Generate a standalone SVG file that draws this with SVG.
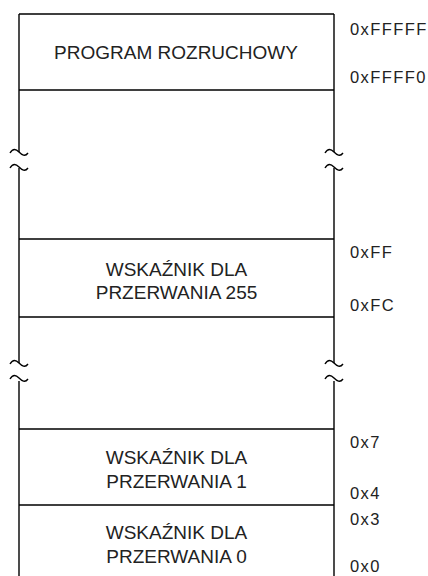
<svg xmlns="http://www.w3.org/2000/svg" width="428" height="576" viewBox="0 0 428 576">
<style>
.ln{stroke:#000;stroke-width:1.4;fill:none}
.t{font-family:"Liberation Sans",Arial,sans-serif;font-size:19px;fill:#222;text-anchor:middle}
.h{font-family:"Liberation Sans",Arial,sans-serif;font-size:16.5px;letter-spacing:1.4px;fill:#222}
</style>
<rect width="428" height="576" fill="#fff"/>
<g id="connectors">
<path class="ln" d="M19,14 H334 M19,90 H334 M19,239 H334 M19,317 H334 M19,429 H334 M19,505 H334"/>
<path class="ln" d="M19,14 V152 M334,14 V152 M19,168 V363 M334,168 V363 M19,381 V576 M334,381 V576"/>
<path id="brk" class="ln" d="M10,153 C13,148 16,149 19,152 C22,155 25,157 28,153 M10,168 C13,163 16,164 19,167 C22,170 25,172 28,168"/>
<use href="#brk" x="315"/>
<use href="#brk" y="211"/>
<use href="#brk" x="315" y="211"/>
</g>
<g id="boot">
<text class="t" x="176" y="59">PROGRAM ROZRUCHOWY</text>
<text class="h" x="350" y="35">0xFFFFF</text>
<text class="h" x="350" y="83">0xFFFF0</text>
</g>
<g id="int255">
<text class="t" x="176.5" y="276">WSKAŹNIK DLA</text>
<text class="t" x="176.5" y="299">PRZERWANIA 255</text>
<text class="h" x="350" y="258">0xFF</text>
<text class="h" x="350" y="311">0xFC</text>
</g>
<g id="int1">
<text class="t" x="176.5" y="464">WSKAŹNIK DLA</text>
<text class="t" x="176.5" y="488">PRZERWANIA 1</text>
<text class="h" x="350" y="448">0x7</text>
<text class="h" x="350" y="499">0x4</text>
</g>
<g id="int0">
<text class="t" x="176.5" y="539">WSKAŹNIK DLA</text>
<text class="t" x="176.5" y="563">PRZERWANIA 0</text>
<text class="h" x="350" y="525">0x3</text>
<text class="h" x="350" y="572">0x0</text>
</g>
</svg>
